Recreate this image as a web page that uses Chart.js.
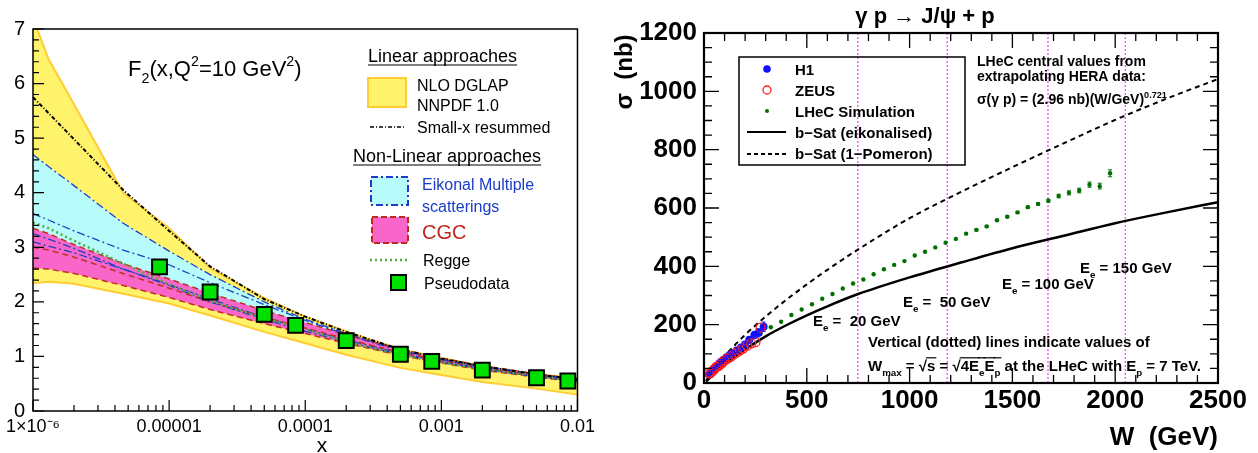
<!DOCTYPE html>
<html>
<head>
<meta charset="utf-8">
<script src="https://cdn.jsdelivr.net/npm/chart.js@4.4.0/dist/chart.umd.min.js"></script>
<style>
    body { margin: 0; background: #fff; width: 1258px; height: 453px; position: relative; overflow: hidden; }
    #left { position: absolute; left: 0; top: 0; }
    #right { position: absolute; left: 600px; top: 0; }
</style>
</head>
<body>
<canvas id="left" width="600" height="453"></canvas>
<canvas id="right" width="658" height="453"></canvas>
<script>
// ---- left panel data: F2(x, Q2 = 10 GeV2) ----
const xGrid          = [1e-6, 1.3e-6, 2e-6, 4.6e-6, 1e-5, 2e-5, 5e-5, 1e-4, 2e-4, 5e-4, 1e-3, 2e-3, 5e-3, 1e-2];
const nnpdfUpper     = [7.20, 6.45, 5.62, 4.00, 3.35, 2.62, 2.07, 1.73, 1.46, 1.13, 0.97, 0.82, 0.68, 0.60];
const nnpdfLower     = [2.34, 2.37, 2.33, 2.15, 1.97, 1.75, 1.45, 1.24, 1.03, 0.79, 0.66, 0.53, 0.41, 0.30];
const smallxResummed = [5.75, 5.46, 4.98, 4.05, 3.30, 2.65, 2.05, 1.73, 1.45, 1.13, 0.96, 0.82, 0.67, 0.58];
const eikonalUpper   = [4.70, 4.48, 4.13, 3.44, 2.93, 2.50, 2.00, 1.68, 1.42, 1.12, 0.95, 0.82, 0.68, 0.58];
const eikonalMid     = [3.62, 3.50, 3.30, 2.95, 2.68, 2.35, 1.95, 1.66, 1.40, 1.10, 0.94, 0.81, 0.67, 0.57];
const eikonalLow     = [3.25, 3.15, 2.98, 2.60, 2.30, 2.00, 1.68, 1.46, 1.27, 1.04, 0.90, 0.77, 0.63, 0.54];
const eikonalLower   = [3.10, 3.02, 2.90, 2.60, 2.32, 2.05, 1.72, 1.50, 1.30, 1.06, 0.91, 0.78, 0.64, 0.55];
const cgcUpper       = [3.35, 3.25, 3.05, 2.70, 2.42, 2.16, 1.84, 1.62, 1.40, 1.13, 0.97, 0.83, 0.68, 0.58];
const cgcMid         = [3.00, 2.95, 2.82, 2.52, 2.25, 2.00, 1.72, 1.52, 1.32, 1.07, 0.92, 0.79, 0.65, 0.56];
const cgcLower       = [2.62, 2.60, 2.52, 2.30, 2.08, 1.86, 1.60, 1.42, 1.24, 1.02, 0.88, 0.75, 0.62, 0.53];
const regge          = [3.45, 3.35, 3.12, 2.70, 2.32, 2.02, 1.70, 1.50, 1.27, 1.03, 0.89, 0.77, 0.64, 0.55];
const pseudoX        = [8.5e-6, 2e-5, 5e-5, 8.5e-5, 2e-4, 5e-4, 8.5e-4, 2e-3, 5e-3, 8.5e-3];
const pseudoF2       = [2.64, 2.18, 1.77, 1.57, 1.29, 1.04, 0.91, 0.75, 0.61, 0.55];
const xTickVals      = [1e-6, 1e-5, 1e-4, 1e-3, 1e-2];
const xTickLabels    = ['1×10⁻⁶', '0.00001', '0.0001', '0.001', '0.01'];

// ---- right panel data: gamma p -> J/psi + p ----
const wGrid    = [10, 20, 50, 100, 200, 300, 400, 500, 600, 750, 1000, 1250, 1500, 1750, 2000, 2250, 2500];
const bSatEik  = [5, 12, 32, 63, 115, 160, 198, 232, 263, 305, 362, 413, 462, 505, 548, 585, 620];
const bSatPom  = [9, 18, 48, 92, 165, 228, 285, 338, 388, 458, 565, 655, 740, 822, 902, 975, 1042];
const lhecW    = [25, 75, 125, 175, 225, 275, 325, 375, 425, 475, 525, 575, 625, 675, 725, 775, 825, 875, 925, 975,
                  1025, 1075, 1125, 1175, 1225, 1275, 1325, 1375, 1425, 1475, 1525, 1575, 1625, 1675, 1725, 1775, 1825, 1875, 1925, 1975];
const lhecSig  = [30, 66, 97, 122, 148, 169, 191, 210, 233, 252, 270, 289, 305, 324, 341, 355, 373, 390, 405, 418,
                  437, 450, 465, 481, 494, 512, 525, 537, 558, 570, 585, 603, 614, 625, 641, 652, 660, 680, 675, 719];
const lhecErr  = [1, 1, 1, 1, 1, 1, 1, 1, 1, 1, 1, 1, 1, 1, 1, 1, 1, 2, 2, 2,
                  2, 2, 2, 2, 2, 2, 3, 3, 3, 3, 3, 4, 4, 5, 6, 7, 8, 9, 10, 12];
const h1W      = [25, 35, 45, 55, 65, 75, 85, 95, 110, 125, 140, 160, 180, 200, 220, 245, 265, 290];
const h1Sig    = [30, 38, 48, 54, 60, 68, 74, 80, 88, 96, 103, 112, 122, 132, 148, 165, 172, 193];
const h1Err    = [4, 4, 5, 5, 5, 6, 6, 6, 7, 7, 8, 8, 9, 10, 11, 12, 14, 16];
const zeusW    = [22, 30, 40, 50, 60, 70, 80, 90, 100, 115, 130, 145, 160, 175, 190, 210, 230, 250, 275];
const zeusSig  = [35, 33, 40, 47, 55, 58, 64, 70, 78, 84, 90, 98, 105, 112, 118, 128, 136, 140, 190];
const wMax     = [748, 1183, 1673, 2049];

const F = "'Liberation Sans', Arial, Helvetica, sans-serif";
const pts = (xs, ys) => xs.map((x, i) => ({ x: x, y: ys[i] }));

function rich(ctx, parts, x, y, size, weight, align) {
    const sz = m => (m.includes('sub') || m.includes('sup')) ? size * 0.65 : size;
    let w = 0;
    parts.forEach(([t, m]) => { ctx.font = `${weight} ${sz(m)}px ${F}`; w += ctx.measureText(t).width; });
    let cx = align === 'center' ? x - w / 2 : align === 'right' ? x - w : x;
    ctx.textAlign = 'left';
    ctx.textBaseline = 'alphabetic';
    parts.forEach(([t, m]) => {
        ctx.font = `${weight} ${sz(m)}px ${F}`;
        const dy = m.includes('sub') ? size * 0.3 : m.includes('sup') ? -size * 0.45 : 0;
        ctx.fillText(t, cx, y + dy);
        const tw = ctx.measureText(t).width;
        if (m.startsWith('o')) {
            ctx.beginPath();
            ctx.lineWidth = 1.2;
            ctx.moveTo(cx - 1, y - size * 0.88);
            ctx.lineTo(cx + tw + 1, y - size * 0.88);
            ctx.stroke();
        }
        cx += tw;
    });
}

function frameTicks(chart, o) {
    const { ctx, chartArea: a, scales: { x, y } } = chart;
    ctx.save();
    ctx.strokeStyle = '#000';
    ctx.lineWidth = o.tw;
    ctx.beginPath();
    const xt = (vals, len) => vals.forEach(v => {
        const p = x.getPixelForValue(v);
        ctx.moveTo(p, a.bottom); ctx.lineTo(p, a.bottom - len);
        if (o.mirror) { ctx.moveTo(p, a.top); ctx.lineTo(p, a.top + len); }
    });
    const yt = (vals, len) => vals.forEach(v => {
        const p = y.getPixelForValue(v);
        ctx.moveTo(a.left, p); ctx.lineTo(a.left + len, p);
        if (o.mirror) { ctx.moveTo(a.right, p); ctx.lineTo(a.right - len, p); }
    });
    xt(o.xMaj, o.maj); xt(o.xMin, o.min); yt(o.yMaj, o.maj); yt(o.yMin, o.min);
    ctx.stroke();
    ctx.lineWidth = o.lw;
    ctx.strokeRect(a.left, a.top, a.right - a.left, a.bottom - a.top);
    ctx.restore();
}

// ---------------- left chart ----------------
const leftXMinor = [];
[1e-6, 1e-5, 1e-4, 1e-3].forEach(d => { for (let k = 2; k <= 9; k++) leftXMinor.push(d * k); });
const leftYMinor = [];
for (let v = 0; v <= 7; v += 0.2) leftYMinor.push(v);

const line = (data, color, width, dash, extra) => Object.assign({
    data: data, borderColor: color, borderWidth: width, borderDash: dash,
    pointRadius: 0, tension: 0, fill: false
}, extra || {});

const leftPlugin = {
    id: 'leftDeco',
    afterDraw(chart) {
        const ctx = chart.ctx;
        frameTicks(chart, { lw: 1.5, tw: 1.2, maj: 11, min: 6, mirror: false,
            xMaj: xTickVals, xMin: leftXMinor, yMaj: [0, 1, 2, 3, 4, 5, 6, 7], yMin: leftYMinor });
        ctx.save();
        ctx.fillStyle = '#000';
        ctx.strokeStyle = '#000';
        rich(ctx, [['F', ''], ['2', 'sub'], ['(x,Q', ''], ['2', 'sup'], ['=10 GeV', ''], ['2', 'sup'], [')', '']], 128, 76, 22, 'normal', 'left');
        rich(ctx, [['x', '']], 322, 452, 21, 'normal', 'center');

        // legend
        ctx.font = `18px ${F}`;
        ctx.fillText('Linear approaches', 368, 62);
        let w = ctx.measureText('Linear approaches').width;
        ctx.lineWidth = 1; ctx.beginPath(); ctx.moveTo(368, 65); ctx.lineTo(368 + w, 65); ctx.stroke();
        ctx.fillText('Non-Linear approaches', 353, 162);
        w = ctx.measureText('Non-Linear approaches').width;
        ctx.beginPath(); ctx.moveTo(353, 165); ctx.lineTo(353 + w, 165); ctx.stroke();

        ctx.fillStyle = '#fff36b'; ctx.fillRect(368, 78, 38, 29);
        ctx.strokeStyle = '#ffcc33'; ctx.lineWidth = 2; ctx.strokeRect(368, 78, 38, 29);
        ctx.fillStyle = '#000';
        ctx.font = `16px ${F}`;
        ctx.fillText('NLO DGLAP', 417, 91);
        ctx.fillText('NNPDF 1.0', 417, 111);
        ctx.fillText('Small-x resummed', 417, 133);
        ctx.strokeStyle = '#000'; ctx.lineWidth = 1.6; ctx.setLineDash([4, 2, 1, 2]);
        ctx.beginPath(); ctx.moveTo(370, 127); ctx.lineTo(406, 127); ctx.stroke();

        ctx.fillStyle = '#b8fbfb'; ctx.fillRect(371, 177, 37, 28);
        ctx.strokeStyle = '#1a3cc8'; ctx.lineWidth = 2; ctx.setLineDash([7, 3, 2, 3]);
        ctx.strokeRect(371, 177, 37, 28);
        ctx.fillStyle = '#1a3cc8';
        ctx.fillText('Eikonal Multiple', 422, 190);
        ctx.fillText('scatterings', 422, 212);

        ctx.fillStyle = '#f766c8'; ctx.fillRect(372, 217, 36, 26);
        ctx.strokeStyle = '#c0281e'; ctx.setLineDash([6, 3]);
        ctx.strokeRect(372, 217, 36, 26);
        ctx.fillStyle = '#c0281e';
        ctx.font = `20px ${F}`;
        ctx.fillText('CGC', 422, 239);

        ctx.strokeStyle = '#4caf3a'; ctx.lineWidth = 2.5; ctx.setLineDash([2, 3]);
        ctx.beginPath(); ctx.moveTo(370, 260); ctx.lineTo(410, 260); ctx.stroke();
        ctx.setLineDash([]);
        ctx.fillStyle = '#000';
        ctx.font = `16px ${F}`;
        ctx.fillText('Regge', 423, 266);
        ctx.fillText('Pseudodata', 424, 289);
        ctx.fillStyle = '#00e000'; ctx.fillRect(391, 275, 15, 15);
        ctx.strokeStyle = '#000'; ctx.lineWidth = 2; ctx.strokeRect(391, 275, 15, 15);
        ctx.restore();
    }
};

new Chart(document.getElementById('left'), {
    type: 'line',
    data: {
        datasets: [
            { data: pts(pseudoX, pseudoF2), showLine: false, pointStyle: 'rect', pointRadius: 10.5,
              backgroundColor: '#00e000', borderColor: '#000', borderWidth: 2, fill: false },
            line(pts(xGrid, smallxResummed), '#000', 2, [4, 2, 1, 2]),
            line(pts(xGrid, regge), '#4caf3a', 2.5, [2, 3]),
            line(pts(xGrid, eikonalMid), '#2040c0', 1.3, [8, 3, 2, 3]),
            line(pts(xGrid, eikonalLow), '#2040c0', 1.3, [8, 3, 2, 3]),
            line(pts(xGrid, cgcMid), '#c03020', 1.5, [6, 4]),
            line(pts(xGrid, cgcUpper), '#c03020', 1.5, [6, 4], { fill: '+1', backgroundColor: '#f766c8' }),
            line(pts(xGrid, cgcLower), '#c03020', 1.5, [6, 4]),
            line(pts(xGrid, eikonalUpper), '#2040c0', 1.3, [8, 3, 2, 3], { fill: '+1', backgroundColor: '#b8fbfb' }),
            line(pts(xGrid, eikonalLower), '#2040c0', 1.3, [8, 3, 2, 3]),
            line(pts(xGrid, nnpdfUpper), '#ffcc33', 2, [], { fill: '+1', backgroundColor: '#fff36b' }),
            line(pts(xGrid, nnpdfLower), '#ffcc33', 2, [])
        ]
    },
    options: {
        responsive: false,
        animation: false,
        layout: { padding: { top: 29, right: 18, left: 0, bottom: 0 } },
        plugins: { legend: { display: false }, tooltip: { enabled: false }, filler: { drawTime: 'beforeDatasetsDraw' } },
        scales: {
            x: {
                type: 'logarithmic', min: 1e-6, max: 1e-2,
                afterBuildTicks: s => { s.ticks = xTickVals.map(v => ({ value: v })); },
                afterFit: s => { s.height = 42; },
                grid: { display: false, drawTicks: false }, border: { display: false },
                ticks: { autoSkip: false, maxRotation: 0, padding: 5, color: '#000', font: { family: F, size: 18 },
                         callback: (v, i) => xTickLabels[i] }
            },
            y: {
                type: 'linear', min: 0, max: 7,
                afterFit: s => { s.width = 33; },
                grid: { display: false, drawTicks: false }, border: { display: false },
                ticks: { stepSize: 1, padding: 8, color: '#000', font: { family: F, size: 20 } }
            }
        }
    },
    plugins: [leftPlugin]
});

// ---------------- right chart ----------------
const rightXMinor = [];
for (let v = 0; v <= 2500; v += 100) rightXMinor.push(v);
const rightYMinor = [];
for (let v = 0; v <= 1200; v += 50) rightYMinor.push(v);

const errorBars = {
    id: 'errorBars',
    afterDatasetsDraw(chart) {
        const { ctx, scales: { x, y } } = chart;
        ctx.save();
        chart.data.datasets.forEach(ds => {
            if (!ds.errY) return;
            ctx.strokeStyle = ds.errColor;
            ctx.lineWidth = 1;
            ds.data.forEach((p, i) => {
                const e = ds.errY[i];
                const px = x.getPixelForValue(p.x);
                const y1 = y.getPixelForValue(p.y - e), y2 = y.getPixelForValue(p.y + e);
                ctx.beginPath();
                ctx.moveTo(px, y1); ctx.lineTo(px, y2);
                if (e >= 3) { ctx.moveTo(px - 2, y1); ctx.lineTo(px + 2, y1); ctx.moveTo(px - 2, y2); ctx.lineTo(px + 2, y2); }
                ctx.stroke();
            });
        });
        ctx.restore();
    }
};

const rightPlugin = {
    id: 'rightDeco',
    afterDraw(chart) {
        const ctx = chart.ctx;
        frameTicks(chart, { lw: 2.2, tw: 1.3, maj: 15, min: 8, mirror: true,
            xMaj: [0, 500, 1000, 1500, 2000, 2500], xMin: rightXMinor,
            yMaj: [0, 200, 400, 600, 800, 1000, 1200], yMin: rightYMinor });
        ctx.save();
        ctx.fillStyle = '#000';
        ctx.strokeStyle = '#000';
        rich(ctx, [['γ p ', ''], ['→', ''], [' J/ψ + p', '']], 325, 23, 22, 'bold', 'center');
        rich(ctx, [['W  (GeV)', '']], 618, 445, 26, 'bold', 'right');
        ctx.save();
        ctx.translate(32, 72);
        ctx.rotate(-Math.PI / 2);
        rich(ctx, [['σ  (nb)', '']], 0, 0, 24, 'bold', 'center');
        ctx.restore();

        // legend box
        ctx.lineWidth = 1.5;
        ctx.strokeRect(139, 57, 226, 108);
        ctx.fillStyle = '#1010ff';
        ctx.beginPath(); ctx.arc(167, 69, 3.8, 0, 2 * Math.PI); ctx.fill();
        ctx.strokeStyle = '#ff2020'; ctx.lineWidth = 1.3;
        ctx.beginPath(); ctx.arc(167, 90, 4, 0, 2 * Math.PI); ctx.stroke();
        ctx.fillStyle = '#007000';
        ctx.beginPath(); ctx.arc(167, 111, 2, 0, 2 * Math.PI); ctx.fill();
        ctx.strokeStyle = '#000'; ctx.lineWidth = 2;
        ctx.beginPath(); ctx.moveTo(147, 132); ctx.lineTo(186, 132); ctx.stroke();
        ctx.setLineDash([4, 3]);
        ctx.beginPath(); ctx.moveTo(147, 154); ctx.lineTo(186, 154); ctx.stroke();
        ctx.setLineDash([]);
        ctx.fillStyle = '#000';
        ctx.font = `bold 15px ${F}`;
        ctx.fillText('H1', 195, 75);
        ctx.fillText('ZEUS', 195, 96);
        ctx.fillText('LHeC Simulation', 195, 117);
        ctx.fillText('b−Sat (eikonalised)', 195, 138);
        ctx.fillText('b−Sat (1−Pomeron)', 195, 159);

        rich(ctx, [['LHeC central values from', '']], 377, 66, 14, 'bold', 'left');
        rich(ctx, [['extrapolating HERA data:', '']], 377, 81, 14, 'bold', 'left');
        rich(ctx, [['σ(γ p) = (2.96 nb)(W/GeV)', ''], ['0.721', 'sup']], 377, 104, 14, 'bold', 'left');

        rich(ctx, [['E', ''], ['e', 'sub'], [' =  20 GeV', '']], 213, 326, 15, 'bold', 'left');
        rich(ctx, [['E', ''], ['e', 'sub'], [' =  50 GeV', '']], 303, 307, 15, 'bold', 'left');
        rich(ctx, [['E', ''], ['e', 'sub'], [' = 100 GeV', '']], 402, 289, 15, 'bold', 'left');
        rich(ctx, [['E', ''], ['e', 'sub'], [' = 150 GeV', '']], 480, 273, 15, 'bold', 'left');

        rich(ctx, [['Vertical (dotted) lines indicate values of', '']], 268, 347, 15, 'bold', 'left');
        rich(ctx, [['W', ''], ['max', 'sub'], [' = √', ''], ['s', 'o'], [' = √', ''], ['4E', 'o'], ['e', 'osub'], ['E', 'o'], ['p', 'osub'],
                   [' at the LHeC with E', ''], ['p', 'sub'], [' = 7 TeV.', '']], 268, 371, 15, 'bold', 'left');
        ctx.restore();
    }
};

const vLines = wMax.map(w => ({
    data: [{ x: w, y: 0 }, { x: w, y: 1200 }],
    borderColor: '#ff33ff', borderWidth: 1.2, borderDash: [2, 2], pointRadius: 0, fill: false
}));

new Chart(document.getElementById('right'), {
    type: 'line',
    data: {
        datasets: [
            { data: pts(zeusW, zeusSig), showLine: false, pointRadius: 4.5, pointBorderWidth: 1.3,
              borderColor: '#ff2020', backgroundColor: 'rgba(0,0,0,0)', pointBackgroundColor: 'rgba(0,0,0,0)' },
            { data: pts(h1W, h1Sig), showLine: false, pointRadius: 4, borderWidth: 0,
              backgroundColor: '#1010ff', borderColor: '#1010ff', errY: h1Err, errColor: '#1010ff' },
            { data: pts(lhecW, lhecSig), showLine: false, pointRadius: 2.2, borderWidth: 0,
              backgroundColor: '#007000', borderColor: '#007000', errY: lhecErr, errColor: '#007000' },
            { data: pts(wGrid, bSatEik), borderColor: '#000', borderWidth: 2.5, pointRadius: 0,
              cubicInterpolationMode: 'monotone', fill: false },
            { data: pts(wGrid, bSatPom), borderColor: '#000', borderWidth: 2, borderDash: [5, 4], pointRadius: 0,
              cubicInterpolationMode: 'monotone', fill: false }
        ].concat(vLines)
    },
    options: {
        responsive: false,
        animation: false,
        layout: { padding: { top: 33, right: 40, left: 0, bottom: 0 } },
        plugins: { legend: { display: false }, tooltip: { enabled: false } },
        scales: {
            x: {
                type: 'linear', min: 0, max: 2500,
                afterFit: s => { s.height = 70; },
                grid: { display: false, drawTicks: false }, border: { display: false },
                ticks: { stepSize: 500, autoSkip: false, maxRotation: 0, padding: 2, color: '#000',
                         font: { family: F, size: 26, weight: 'bold' }, callback: v => String(v) }
            },
            y: {
                type: 'linear', min: 0, max: 1200,
                afterFit: s => { s.width = 104; },
                grid: { display: false, drawTicks: false }, border: { display: false },
                ticks: { stepSize: 200, padding: 7, color: '#000', font: { family: F, size: 26, weight: 'bold' },
                         callback: v => String(v) }
            }
        }
    },
    plugins: [errorBars, rightPlugin]
});
</script>
</body>
</html>
